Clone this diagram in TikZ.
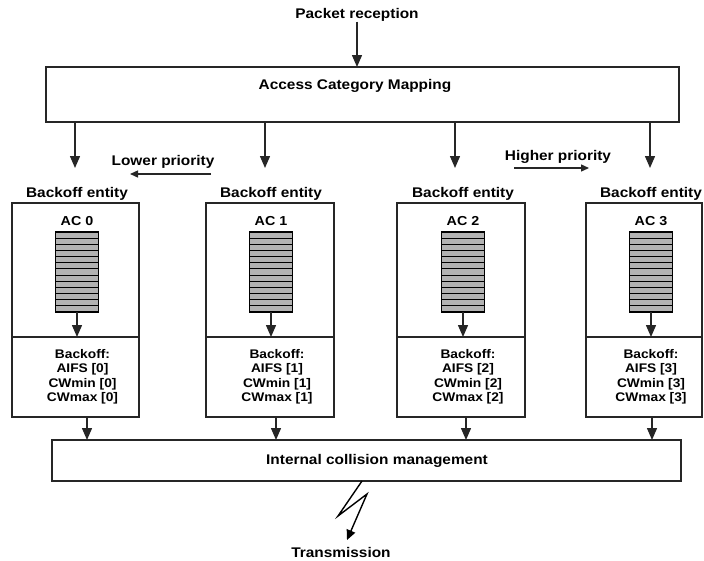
\documentclass[tikz,border=0pt]{standalone}
\usepackage{fontspec}
\setmainfont{Liberation Sans}[FakeStretch=1.1]
\usetikzlibrary{arrows.meta}
\tikzset{
  box/.style={draw=black!85, line width=1.6pt, inner sep=0pt, outer sep=0pt},
  lbl/.style={font=\fontsize{14}{16}\selectfont\bfseries, inner sep=0pt},
  parm/.style={font=\fontsize{12.5}{14.5}\selectfont\bfseries, align=center, inner sep=0pt},
  flow/.style={->, line width=1.4pt, draw=black!85},
  prio/.style={->, line width=1.4pt, draw=black!85, >={Triangle[length=8pt,width=7pt]}},
  queue/.style={draw=black, line width=1.1pt, fill=gray!60, inner sep=0pt, outer sep=0pt,
    minimum width=43pt, minimum height=80pt},
}
\begin{document}
\begin{tikzpicture}[x=1pt, y=-1pt, >={Triangle[length=12pt,width=10pt]}]
    \useasboundingbox (0,0) rectangle (704,560);
    % top: reception and mapping
    \node[lbl] (rx) at (357,15) {Packet reception};
    \node[box, minimum width=633pt, minimum height=55pt] (map) at (362.5,94.5) {};
    \node[lbl] (maptxt) at (355,86) {Access Category Mapping};
    \draw[flow] (rx) -- (map.north -| rx);
    % priority hints
    \node[lbl] (lowtxt) at (163,162) {Lower priority};
    \coordinate (lowa) at (211,174); \coordinate (lowb) at (130,174);
    \draw[prio] (lowa) -- (lowb);
    \node[lbl] (hightxt) at (558,157) {Higher priority};
    \coordinate (higha) at (514,168); \coordinate (highb) at (589,168);
    \draw[prio] (higha) -- (highb);
    % collision management
    \node[box, minimum width=629pt, minimum height=41pt] (icm) at (366.5,460.5) {};
    \node[lbl] (icmtxt) at (377,461) {Internal collision management};
    % backoff entities
    \foreach \i/\l/\r/\q/\m/\o in {0/12/139/77/75/87, 1/206/334/271/265/276,
                                   2/397/525/463/455/466, 3/586/702/651/650/652}{
        \node[lbl] (be\i) at (\q,194) {Backoff entity};
        \coordinate (in\i) at (\m,168);
        \draw[flow] (map.south -| in\i) -- (in\i);
        \node[box, anchor=north west, minimum width={(\r-\l)*1pt}, minimum height=134pt] (ac\i) at (\l,203) {};
        \node[box, anchor=north west, minimum width={(\r-\l)*1pt}, minimum height=80pt] (bo\i) at (\l,337) {};
        \node[lbl, font=\fontsize{13}{15}\selectfont\bfseries] (acl\i) at (\q,221) {AC \i};
        \node[queue, anchor=north] (q\i) at (\q,232) {};
        \foreach \k in {1,...,12}
            \draw[line width=1.1pt] (q\i.north west) ++(0,\k*80/13) -- ++(43,0);
        \draw[flow] (q\i.south) -- (bo\i.north -| q\i);
        \node[parm] (par\i) at ({(\l+\r)/2+7},377) {Backoff:\\AIFS [\i]\\CWmin [\i]\\CWmax [\i]};
        \coordinate (out\i) at (\o,0);
        \draw[flow] (bo\i.south -| out\i) -- (icm.north -| out\i);
    }
    % transmission
    \node[lbl] (tx) at (341,552) {Transmission};
    \coordinate (z1) at (338,516); \coordinate (z2) at (367,494); \coordinate (zt) at (347,540);
    \draw[->, line width=1.4pt, >={Triangle[length=10pt,width=9pt]}] (icm.south -| 362,0) -- (z1) -- (z2) -- (zt);
\end{tikzpicture}
\end{document}
